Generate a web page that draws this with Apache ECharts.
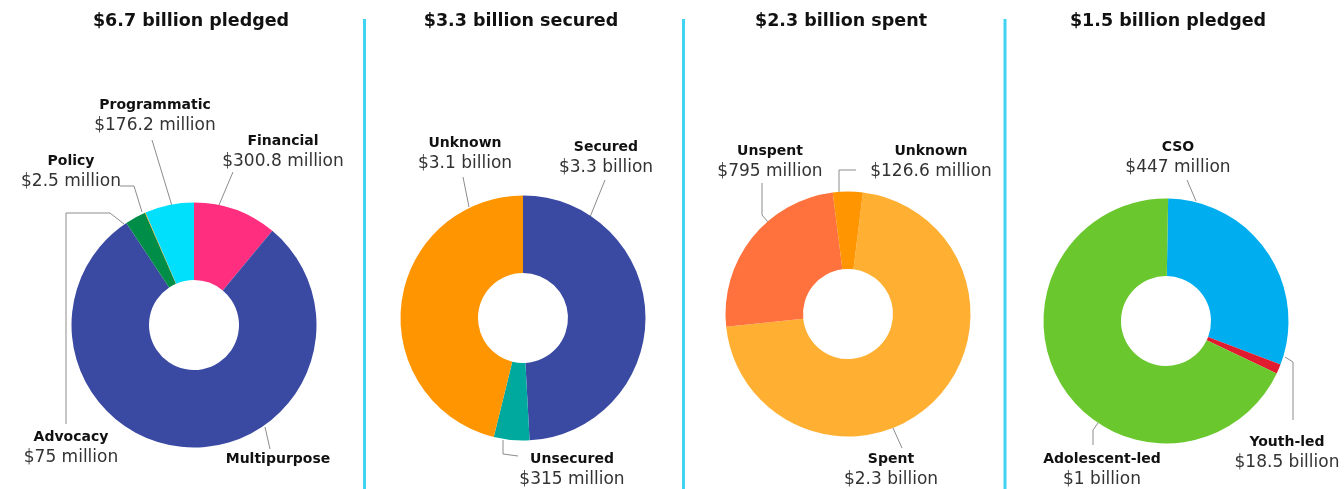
<!DOCTYPE html>
<html>
<head>
<meta charset="utf-8">
<script src="https://cdn.jsdelivr.net/npm/echarts@6/dist/echarts.min.js"></script>
<style>
  html, body { margin: 0; padding: 0; background: #ffffff; }
  #chart { width: 1344px; height: 489px; }
</style>
</head>
<body>
<div id="chart"></div>
<script>
// Amounts are in US$ millions.
const pledgedTitle = '$6.7 billion pledged';
const pledgedCategories = ['Financial', 'Multipurpose', 'Advocacy', 'Policy', 'Programmatic'];
const pledgedValues = [300.8, 2170, 75, 2.5, 176.2];
const pledgedText = ['$300.8 million', '', '$75 million', '$2.5 million', '$176.2 million'];

const securedTitle = '$3.3 billion secured';
const securedCategories = ['Secured', 'Unsecured', 'Unknown'];
const securedValues = [3300, 315, 3100];
const securedText = ['$3.3 billion', '$315 million', '$3.1 billion'];

const spentTitle = '$2.3 billion spent';
const spentCategories = ['Spent', 'Unspent', 'Unknown'];
const spentValues = [2300, 795, 126.6];
const spentText = ['$2.3 billion', '$795 million', '$126.6 million'];

const youthTitle = '$1.5 billion pledged';
const youthCategories = ['CSO', 'Youth-led', 'Adolescent-led'];
const youthValues = [447, 18.5, 1000];
const youthText = ['$447 million', '$18.5 billion', '$1 billion'];

// ---- presentation ----
const FONT = '"DejaVu Sans", sans-serif';
const centers = [[194, 325], [523, 318], [848, 314], [1166, 321]];
const startAngles = [90, 90, 83, 89];
const palettes = [
  ['#FF2E7E', '#3A4AA3', '#008D48', '#FF9500', '#00DFFC'],
  ['#3A4AA3', '#00A99E', '#FF9500'],
  ['#FFB033', '#FF723D', '#FF9500'],
  ['#00AEEF', '#E01A2F', '#6AC72D']
];
// label block centre and leader polyline, as offsets from each donut's centre
const labelSpots = [
  [
    { at: [89, -173], line: [[25, -120], [39, -153]] },
    { at: [84, 134], line: [[71, 102], [76, 124]] },
    { at: [-123, 123], line: [[-70, -101], [-84, -112], [-128, -112], [-128, 99]] },
    { at: [-123, -153], line: [[-52, -113], [-60, -139], [-74, -139]] },
    { at: [-39, -209], line: [[-22, -119], [-42, -185]] }
  ],
  [
    { at: [83, -160], line: [[67, -101], [82, -138]] },
    { at: [49, 152], line: [[-20, 122], [-20, 136], [-5, 138]] },
    { at: [-58, -164], line: [[-54, -111], [-60, -141]] }
  ],
  [
    { at: [43, 156], line: [[45, 114], [54, 134]] },
    { at: [-78, -152], line: [[-80, -92], [-86, -99], [-86, -131]] },
    { at: [83, -152], line: [[-9, -122], [-9, -144], [8, -144]] }
  ],
  [
    { at: [12, -163], line: [[30, -120], [21, -141]] },
    { at: [121, 132], line: [[119, 36], [127, 41], [127, 99]] },
    { at: [-64, 149], line: [[-68, 102], [-73, 109], [-73, 124]] }
  ]
];

const panels = [
  { title: pledgedTitle, cats: pledgedCategories, vals: pledgedValues, text: pledgedText },
  { title: securedTitle, cats: securedCategories, vals: securedValues, text: securedText },
  { title: spentTitle, cats: spentCategories, vals: spentValues, text: spentText },
  { title: youthTitle, cats: youthCategories, vals: youthValues, text: youthText }
];
const titleX = [191, 521, 841, 1168];
const dividerX = [364.5, 683.5, 1005];

const series = panels.map(function (p, i) {
  return {
    type: 'pie',
    center: centers[i],
    radius: [45, 122.5],
    startAngle: startAngles[i],
    clockwise: true,
    avoidLabelOverlap: false,
    silent: true,
    itemStyle: { borderWidth: 0 },
    label: {
      show: true,
      position: 'outside',
      formatter: function (d) {
        const t = p.text[d.dataIndex];
        return '{n|' + d.name + '}' + (t ? '\n{v|' + t + '}' : '');
      },
      rich: {
        n: { fontFamily: FONT, fontWeight: 'bold', fontSize: 14, color: '#111111', lineHeight: 20, align: 'center' },
        v: { fontFamily: FONT, fontSize: 17, color: '#333333', lineHeight: 21, align: 'center' }
      }
    },
    labelLine: { show: true, smooth: false, lineStyle: { color: '#8c8c8c', width: 1 } },
    labelLayout: function (params) {
      const s = labelSpots[i][params.dataIndex];
      const c = centers[i];
      return {
        x: c[0] + s.at[0],
        y: c[1] + s.at[1],
        align: 'center',
        verticalAlign: 'middle',
        labelLinePoints: s.line.map(function (q) { return [c[0] + q[0], c[1] + q[1]]; })
      };
    },
    data: p.cats.map(function (name, k) {
      return { name: name, value: p.vals[k], itemStyle: { color: palettes[i][k] } };
    })
  };
});

const graphics = [];
panels.forEach(function (p, i) {
  graphics.push({
    type: 'text', x: titleX[i], y: 21,
    style: { text: p.title, fill: '#111111', font: 'bold 17.5px ' + FONT, textAlign: 'center', textVerticalAlign: 'middle' }
  });
});
dividerX.forEach(function (x) {
  graphics.push({
    type: 'line', shape: { x1: x, y1: 19, x2: x, y2: 489 },
    style: { stroke: '#40D3F2', lineWidth: 3 }
  });
});

const chart = echarts.init(document.getElementById('chart'), null, { renderer: 'canvas' });
chart.setOption({
  backgroundColor: '#ffffff',
  animation: false,
  graphic: graphics,
  series: series
});
</script>
</body>
</html>
